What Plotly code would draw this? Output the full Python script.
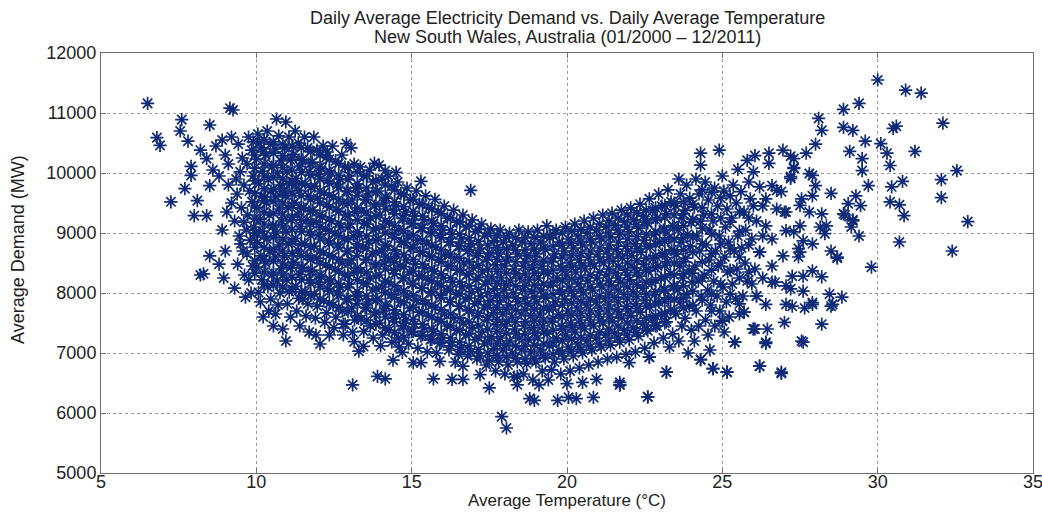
import plotly.graph_objects as go

# Temperature (°C), demand (MW) pairs
cold_points = [
    (6.5, 11160), (6.8, 10590), (6.9, 10460), (7.25, 9520), (7.55, 10700), (7.6, 10890),
    (7.7, 9740), (7.8, 10530), (7.9, 10110), (7.9, 9960), (8.0, 9290), (8.1, 9540),
    (8.3, 8320), (8.2, 8300), (8.4, 9290), (8.4, 10240), (8.5, 10800), (8.5, 9790),
    (8.5, 8620), (8.8, 8480), (8.7, 10450), (8.9, 10550), (8.8, 9950), (8.9, 9050),
    (9.0, 10300), (9.1, 9800), (9.15, 11080), (9.25, 11050), (9.2, 10600), (9.3, 9200),
    (9.3, 8080), (9.2, 9500), (9.35, 9900), (9.0, 8700), (9.65, 7930), (9.1, 10150),
    (8.6, 10050), (8.2, 10380), (9.05, 9350), (8.95, 8250),
]

cool_points = [
    (9.42, 10480), (9.55, 10250), (9.48, 10020), (9.6, 9800), (9.38, 9650), (9.52, 9420),
    (9.6, 9180), (9.45, 8950), (9.57, 8700), (9.4, 8480), (9.62, 8300), (9.5, 8820),
    (9.75, 10600), (9.85, 10380), (9.7, 10150), (9.9, 9950), (9.78, 9700), (9.86, 9520),
    (9.72, 9300), (9.92, 9100), (9.8, 8880), (9.7, 8650), (9.88, 8450), (9.76, 8220),
    (9.83, 8000), (9.9, 10520), (9.68, 9050),
    (10.05, 10650), (10.15, 10420), (10.0, 10230), (10.2, 10030), (10.08, 9820), (10.17, 9610),
    (10.02, 9420), (10.12, 9230), (10.2, 9030), (10.04, 8840), (10.14, 8620), (10.0, 8430),
    (10.18, 8220), (10.07, 8010), (10.13, 7850), (10.22, 7600), (10.1, 10500), (10.0, 9000),
    (10.35, 10700), (10.45, 10480), (10.3, 10300), (10.5, 10100), (10.38, 9890), (10.47, 9700),
    (10.32, 9500), (10.42, 9300), (10.52, 9100), (10.34, 8900), (10.44, 8700), (10.3, 8500),
    (10.5, 8300), (10.37, 8100), (10.46, 7900), (10.4, 7700), (10.55, 7450), (10.28, 9600),
    (10.65, 10900), (10.72, 10620), (10.6, 10400), (10.8, 10200), (10.68, 10000), (10.77, 9800),
    (10.62, 9600), (10.73, 9400), (10.82, 9200), (10.64, 9000), (10.74, 8800), (10.6, 8600),
    (10.8, 8400), (10.67, 8200), (10.76, 8000), (10.7, 7800), (10.62, 7650), (10.85, 7400),
    (10.9, 9700),
    (10.95, 10850), (11.05, 10600), (10.92, 10420), (11.1, 10220), (10.98, 10020), (11.07, 9820),
    (10.93, 9620), (11.03, 9420), (11.12, 9220), (10.96, 9020), (11.04, 8820), (10.9, 8620),
    (11.1, 8420), (10.97, 8220), (11.06, 8020), (11.0, 7820), (11.1, 7600), (10.95, 7200),
    (11.25, 10700), (11.35, 10500), (11.2, 10310), (11.4, 10110), (11.28, 9910), (11.37, 9710),
    (11.22, 9510), (11.33, 9310), (11.42, 9110), (11.26, 8910), (11.34, 8710), (11.2, 8510),
    (11.4, 8310), (11.27, 8110), (11.36, 7910), (11.3, 7700), (11.4, 7450), (11.25, 9800),
    (11.55, 10600), (11.65, 10420), (11.5, 10220), (11.7, 10020), (11.58, 9820), (11.67, 9620),
    (11.52, 9420), (11.63, 9220), (11.72, 9020), (11.56, 8820), (11.64, 8620), (11.5, 8420),
    (11.7, 8220), (11.57, 8020), (11.66, 7820), (11.6, 7620), (11.7, 7350), (11.5, 7900),
    (11.85, 10600), (11.95, 10380), (11.8, 10180), (12.0, 9980), (11.88, 9780), (11.97, 9580),
    (11.82, 9380), (11.93, 9180), (12.02, 8980), (11.86, 8780), (11.94, 8580), (11.8, 8380),
    (12.0, 8180), (11.87, 7980), (11.96, 7780), (11.9, 7580), (11.92, 7300), (12.05, 7150),
    (12.15, 10450), (12.25, 10260), (12.1, 10070), (12.3, 9870), (12.18, 9670), (12.27, 9470),
    (12.12, 9270), (12.23, 9070), (12.32, 8870), (12.16, 8670), (12.24, 8470), (12.1, 8270),
    (12.3, 8070), (12.17, 7870), (12.26, 7670), (12.2, 7510), (12.35, 7300), (12.28, 10350),
    (12.45, 10450), (12.55, 10200), (12.4, 10000), (12.6, 9800), (12.48, 9600), (12.57, 9400),
    (12.42, 9200), (12.53, 9000), (12.62, 8800), (12.46, 8600), (12.54, 8400), (12.4, 8200),
    (12.6, 8000), (12.47, 7800), (12.56, 7600), (12.5, 7420), (12.8, 7480), (12.9, 10490),
    (12.75, 10300), (12.85, 10100), (12.7, 9900), (12.9, 9700), (12.78, 9500), (12.87, 9300),
    (12.72, 9100), (12.83, 8900), (12.92, 8700), (12.76, 8500), (12.84, 8300), (12.7, 8100),
    (12.9, 7900), (12.77, 7700), (12.86, 7480), (12.8, 7300),
    (13.05, 10420), (13.15, 10150), (13.0, 9950), (13.2, 9750), (13.08, 9550), (13.17, 9350),
    (13.02, 9150), (13.13, 8950), (13.22, 8750), (13.06, 8550), (13.14, 8350), (13.0, 8150),
    (13.2, 7950), (13.07, 7750), (13.16, 7550), (13.1, 7350), (13.15, 7190), (13.1, 6470),
    (13.35, 10100), (13.45, 9950), (13.3, 9760), (13.5, 9560), (13.38, 9360), (13.47, 9160),
    (13.32, 8960), (13.43, 8760), (13.52, 8560), (13.36, 8360), (13.44, 8160), (13.3, 7960),
    (13.5, 7760), (13.37, 7560), (13.46, 7360), (13.45, 7110), (13.3, 7030),
    (13.65, 10050), (13.75, 9850), (13.6, 9650), (13.8, 9450), (13.68, 9250), (13.77, 9050),
    (13.62, 8850), (13.73, 8650), (13.82, 8450), (13.66, 8250), (13.74, 8050), (13.6, 7850),
    (13.8, 7650), (13.67, 7450), (13.76, 7250), (13.9, 6610), (13.8, 10160),
]

mild_points = [
    (13.95, 10130), (14.05, 9900), (13.9, 9700), (14.1, 9500), (13.98, 9300), (14.07, 9100),
    (13.92, 8900), (14.03, 8700), (14.12, 8500), (13.96, 8300), (14.04, 8100), (13.9, 7900),
    (14.1, 7700), (13.97, 7500), (14.06, 7300), (14.15, 6570), (14.0, 7120), (14.15, 10040),
    (14.25, 9950), (14.35, 9780), (14.2, 9580), (14.4, 9380), (14.28, 9180), (14.37, 8980),
    (14.22, 8780), (14.33, 8580), (14.42, 8380), (14.26, 8180), (14.34, 7980), (14.2, 7780),
    (14.4, 7580), (14.27, 7380), (14.36, 7180), (14.4, 6880), (14.5, 10010),
    (14.55, 9850), (14.65, 9650), (14.5, 9450), (14.7, 9250), (14.58, 9050), (14.67, 8850),
    (14.52, 8650), (14.63, 8450), (14.72, 8250), (14.56, 8050), (14.64, 7850), (14.5, 7650),
    (14.7, 7450), (14.57, 7250), (14.7, 7010), (14.6, 7100),
    (14.85, 9750), (14.95, 9550), (14.8, 9350), (15.0, 9150), (14.88, 8950), (14.97, 8750),
    (14.82, 8550), (14.93, 8350), (15.02, 8150), (14.86, 7950), (14.94, 7750), (14.8, 7550),
    (15.0, 7350), (14.9, 7150), (15.05, 6840),
    (15.15, 9700), (15.25, 9480), (15.1, 9280), (15.3, 9080), (15.18, 8880), (15.27, 8680),
    (15.12, 8480), (15.23, 8280), (15.32, 8080), (15.16, 7880), (15.24, 7680), (15.1, 7480),
    (15.3, 7280), (15.2, 7080), (15.3, 6840), (15.3, 9860),
    (15.45, 9620), (15.55, 9420), (15.4, 9220), (15.6, 9020), (15.48, 8820), (15.57, 8620),
    (15.42, 8420), (15.53, 8220), (15.62, 8020), (15.46, 7820), (15.54, 7620), (15.4, 7420),
    (15.6, 7220), (15.5, 7020), (15.7, 6570),
    (15.75, 9560), (15.85, 9360), (15.7, 9160), (15.9, 8960), (15.78, 8760), (15.87, 8560),
    (15.72, 8360), (15.83, 8160), (15.92, 7960), (15.76, 7760), (15.84, 7560), (15.7, 7360),
    (15.9, 7160), (15.9, 6860), (15.8, 7000),
    (16.05, 9450), (16.15, 9250), (16.0, 9050), (16.2, 8850), (16.08, 8650), (16.17, 8450),
    (16.02, 8250), (16.13, 8050), (16.22, 7850), (16.06, 7650), (16.14, 7450), (16.0, 7250),
    (16.2, 7050), (16.3, 6560),
    (16.35, 9380), (16.45, 9180), (16.3, 8980), (16.5, 8780), (16.38, 8580), (16.47, 8380),
    (16.32, 8180), (16.43, 7980), (16.52, 7780), (16.36, 7580), (16.44, 7380), (16.3, 7180),
    (16.5, 6980), (16.4, 6850),
    (16.65, 9300), (16.75, 9100), (16.6, 8900), (16.8, 8700), (16.68, 8500), (16.77, 8300),
    (16.62, 8100), (16.73, 7900), (16.82, 7700), (16.66, 7500), (16.74, 7300), (16.6, 7100),
    (16.8, 6950), (16.65, 6780), (16.65, 6560), (16.9, 9710),
    (16.95, 9220), (17.05, 9020), (16.9, 8820), (17.1, 8620), (16.98, 8420), (17.07, 8220),
    (16.92, 8020), (17.03, 7820), (17.12, 7620), (16.96, 7420), (17.04, 7220), (16.9, 7020),
    (17.1, 6900),
    (17.25, 9150), (17.35, 8950), (17.2, 8750), (17.4, 8550), (17.28, 8350), (17.37, 8150),
    (17.22, 7950), (17.33, 7750), (17.42, 7550), (17.26, 7350), (17.34, 7150), (17.2, 6950),
    (17.2, 6640), (17.4, 6800),
    (17.55, 9070), (17.65, 8870), (17.5, 8670), (17.7, 8470), (17.58, 8270), (17.67, 8070),
    (17.52, 7870), (17.63, 7670), (17.72, 7470), (17.56, 7270), (17.64, 7070), (17.5, 6870),
    (17.5, 6420), (17.7, 6700),
    (17.85, 9050), (17.95, 8850), (17.8, 8650), (18.0, 8450), (17.88, 8250), (17.97, 8050),
    (17.82, 7850), (17.93, 7650), (18.02, 7450), (17.86, 7250), (17.94, 7050), (17.8, 6850),
    (18.0, 6650), (17.9, 5940), (18.05, 5750),
    (18.15, 9000), (18.25, 8800), (18.1, 8600), (18.3, 8400), (18.18, 8200), (18.27, 8000),
    (18.12, 7800), (18.23, 7600), (18.32, 7400), (18.16, 7200), (18.24, 7000), (18.1, 6800),
    (18.3, 6600), (18.4, 6470),
    (18.45, 9050), (18.55, 8850), (18.4, 8650), (18.6, 8450), (18.48, 8250), (18.57, 8050),
    (18.42, 7850), (18.53, 7650), (18.62, 7450), (18.46, 7250), (18.54, 7050), (18.4, 6850),
    (18.6, 6650), (18.4, 6610),
    (18.75, 9020), (18.85, 8820), (18.7, 8620), (18.9, 8420), (18.78, 8220), (18.87, 8020),
    (18.72, 7820), (18.83, 7620), (18.92, 7420), (18.76, 7220), (18.84, 7020), (18.7, 6820),
    (18.9, 6550), (18.8, 6240), (18.95, 6210),
    (19.05, 9050), (19.15, 8850), (19.0, 8650), (19.2, 8450), (19.08, 8250), (19.17, 8050),
    (19.02, 7850), (19.13, 7650), (19.22, 7450), (19.06, 7250), (19.14, 7050), (19.0, 6850),
    (19.2, 6700), (19.1, 6470),
    (19.35, 9120), (19.45, 8920), (19.3, 8720), (19.5, 8520), (19.38, 8320), (19.47, 8120),
    (19.32, 7920), (19.43, 7720), (19.52, 7520), (19.36, 7320), (19.44, 7120), (19.3, 6920),
    (19.5, 6720), (19.4, 6550),
    (19.65, 9050), (19.75, 8850), (19.6, 8650), (19.8, 8450), (19.68, 8250), (19.77, 8050),
    (19.62, 7850), (19.73, 7650), (19.82, 7450), (19.66, 7250), (19.74, 7050), (19.6, 6850),
    (19.8, 6650), (19.7, 6210),
]

warm_points = [
    (19.95, 9100), (20.05, 8900), (19.9, 8700), (20.1, 8500), (19.98, 8300), (20.07, 8100),
    (19.92, 7900), (20.03, 7700), (20.12, 7500), (19.96, 7300), (20.04, 7100), (19.9, 6900),
    (20.1, 6700), (20.0, 6490), (20.05, 6260),
    (20.25, 9150), (20.35, 8950), (20.2, 8750), (20.4, 8550), (20.28, 8350), (20.37, 8150),
    (20.22, 7950), (20.33, 7750), (20.42, 7550), (20.26, 7350), (20.34, 7150), (20.2, 6950),
    (20.4, 6750), (20.3, 6240),
    (20.55, 9200), (20.65, 9000), (20.5, 8800), (20.7, 8600), (20.58, 8400), (20.67, 8200),
    (20.52, 8000), (20.63, 7800), (20.72, 7600), (20.56, 7400), (20.64, 7200), (20.5, 7000),
    (20.7, 6800), (20.5, 6510),
    (20.85, 9250), (20.95, 9050), (20.8, 8850), (21.0, 8650), (20.88, 8450), (20.97, 8250),
    (20.82, 8050), (20.93, 7850), (21.02, 7650), (20.86, 7450), (20.94, 7250), (20.8, 7050),
    (21.0, 6850), (20.95, 6560), (20.85, 6260),
    (21.15, 9300), (21.25, 9100), (21.1, 8900), (21.3, 8700), (21.18, 8500), (21.27, 8300),
    (21.12, 8100), (21.23, 7900), (21.32, 7700), (21.16, 7500), (21.24, 7300), (21.1, 7100),
    (21.3, 6900),
    (21.45, 9330), (21.55, 9130), (21.4, 8930), (21.6, 8730), (21.48, 8530), (21.57, 8330),
    (21.42, 8130), (21.53, 7930), (21.62, 7730), (21.46, 7530), (21.54, 7330), (21.4, 7130),
    (21.6, 6930), (21.7, 6510), (21.7, 6470),
    (21.75, 9380), (21.85, 9180), (21.7, 8980), (21.9, 8780), (21.78, 8580), (21.87, 8380),
    (21.72, 8180), (21.83, 7980), (21.92, 7780), (21.76, 7580), (21.84, 7380), (21.7, 7180),
    (21.9, 6980), (22.0, 6840),
    (22.05, 9420), (22.15, 9220), (22.0, 9020), (22.2, 8820), (22.08, 8620), (22.17, 8420),
    (22.02, 8220), (22.13, 8020), (22.22, 7820), (22.06, 7620), (22.14, 7420), (22.0, 7220),
    (22.2, 7020),
    (22.35, 9480), (22.45, 9280), (22.3, 9080), (22.5, 8880), (22.38, 8680), (22.47, 8480),
    (22.32, 8280), (22.43, 8080), (22.52, 7880), (22.36, 7680), (22.44, 7480), (22.3, 7280),
    (22.5, 7080), (22.6, 6270), (22.65, 6930),
    (22.65, 9570), (22.75, 9370), (22.6, 9170), (22.8, 8970), (22.68, 8770), (22.77, 8570),
    (22.62, 8370), (22.73, 8170), (22.82, 7970), (22.66, 7770), (22.74, 7570), (22.6, 7370),
    (22.8, 7170),
    (22.95, 9650), (23.05, 9450), (22.9, 9250), (23.1, 9050), (22.98, 8850), (23.07, 8650),
    (22.92, 8450), (23.03, 8250), (23.12, 8050), (22.96, 7850), (23.04, 7650), (22.9, 7450),
    (23.1, 7250), (23.2, 6680),
    (23.25, 9720), (23.35, 9520), (23.2, 9320), (23.4, 9120), (23.28, 8920), (23.37, 8720),
    (23.22, 8520), (23.33, 8320), (23.42, 8120), (23.26, 7920), (23.34, 7720), (23.2, 7520),
    (23.4, 7320), (23.3, 7100),
    (23.6, 9900), (23.65, 9650), (23.5, 9450), (23.7, 9250), (23.58, 9050), (23.67, 8850),
    (23.52, 8650), (23.63, 8450), (23.72, 8250), (23.56, 8050), (23.64, 7850), (23.5, 7650),
    (23.7, 7450), (23.6, 7200),
    (23.85, 9800), (23.95, 9580), (23.8, 9380), (24.0, 9180), (23.88, 8980), (23.97, 8780),
    (23.82, 8580), (23.93, 8380), (24.02, 8180), (23.86, 7980), (23.94, 7780), (23.8, 7580),
    (24.0, 7380), (23.9, 7000),
    (24.3, 10330), (24.3, 10130), (24.15, 9900), (24.25, 9650), (24.1, 9430), (24.3, 9200),
    (24.18, 8950), (24.27, 8700), (24.12, 8450), (24.23, 8200), (24.32, 7950), (24.16, 7700),
    (24.24, 7450), (24.3, 6890), (24.1, 7200),
    (24.9, 10380), (24.45, 9850), (24.55, 9550), (24.4, 9300), (24.6, 9050), (24.48, 8800),
    (24.57, 8550), (24.42, 8300), (24.53, 8050), (24.62, 7800), (24.46, 7550), (24.54, 7300),
    (24.7, 6740), (24.6, 7050),
    (24.75, 9750), (24.85, 9450), (24.7, 9200), (24.9, 8950), (24.78, 8700), (24.87, 8450),
    (24.72, 8200), (24.83, 7950), (24.92, 7700), (24.76, 7450), (25.0, 7530), (25.15, 6680),
    (25.05, 9700), (25.15, 9400), (25.1, 9100), (25.2, 8850), (25.08, 8600), (25.17, 8350),
    (25.02, 8100), (25.13, 7850), (25.22, 7600), (25.06, 7350), (25.0, 9950),
    (25.5, 10060), (25.35, 9800), (25.45, 9500), (25.3, 9250), (25.5, 8950), (25.38, 8700),
    (25.47, 8400), (25.32, 8150), (25.43, 7900), (25.4, 7180), (25.55, 7650),
    (25.8, 10210), (25.6, 9690), (25.7, 9350), (25.75, 9050), (25.62, 8750), (25.73, 8500),
    (25.8, 8200), (25.66, 7950), (25.7, 7680), (25.9, 9570),
    (26.05, 10290), (26.0, 10020), (26.2, 9770), (26.0, 9450), (26.1, 9200), (25.95, 8900),
    (26.2, 8680), (26.05, 8400), (26.1, 7950), (26.0, 7400), (26.2, 6780), (25.95, 8150),
]

hot_points = [
    (26.5, 10330), (26.5, 10160), (26.95, 10380), (27.2, 10280), (27.3, 10090), (27.7, 10330),
    (26.6, 9790), (26.75, 9710), (27.2, 9910), (27.8, 9990), (28.0, 9790), (28.5, 9660),
    (27.55, 9570), (27.8, 9350), (28.2, 9320), (28.15, 9100), (28.35, 9120), (28.5, 8700),
    (28.7, 8600), (27.6, 8870), (27.9, 8820), (27.45, 8740), (27.45, 8600), (27.25, 8280),
    (27.6, 8280), (27.9, 8370), (28.2, 8270), (27.6, 8030), (27.05, 8120), (26.7, 8180),
    (27.05, 7810), (27.9, 7840), (28.45, 7980), (28.55, 7810), (28.85, 7930), (26.4, 7810),
    (26.1, 7950), (26.6, 8450), (26.95, 8620), (26.2, 8680), (26.6, 8900), (27.05, 9040),
    (26.4, 9120), (27.5, 9120), (27.05, 9350), (26.75, 9400), (26.4, 9570), (27.3, 9020),
    (28.3, 8990), (27.5, 9460), (27.0, 9350), (26.9, 9690), (27.9, 9620), (27.3, 10240),
    (27.3, 10075), (27.2, 9940), (27.9, 9960), (28.0, 10480), (28.1, 10910), (28.2, 10710),
    (28.9, 11060), (29.4, 11160), (28.9, 10760), (29.2, 10710), (29.6, 10530), (30.1, 10490),
    (30.5, 10745), (30.6, 10780), (32.1, 10830), (29.1, 10360), (29.5, 10240), (30.3, 10330),
    (31.2, 10360), (29.5, 10040), (30.4, 10125), (32.55, 10040), (32.05, 9890), (29.7, 9790),
    (30.45, 9770), (30.8, 9860), (32.05, 9590), (29.3, 9620), (29.05, 9490), (29.45, 9455),
    (30.4, 9520), (30.7, 9470), (30.85, 9290), (28.95, 9300), (29.2, 9200), (29.15, 9100),
    (29.4, 8950), (32.9, 9190), (30.7, 8850), (32.4, 8700), (29.8, 8430), (28.2, 7480),
    (27.55, 7200), (26.9, 6680), (26.2, 6780), (26.4, 7160), (26.45, 7400), (26.0, 7400),
    (27.0, 7510), (25.4, 7180), (25.15, 6680), (22.6, 6270), (21.7, 6470), (25.0, 7540),
    (30.0, 11550), (30.9, 11380), (31.4, 11330), (28.5, 7780), (27.9, 7810), (27.25, 7780),
    (27.2, 8070), (28.9, 9320), (29.2, 9220), (28.7, 8580), (27.5, 8680), (27.65, 7750),
    (26.9, 6660), (27.6, 7180), (26.4, 7180), (23.2, 6680), (22.65, 6930), (24.3, 6890),
    (24.7, 6740), (26.05, 7400), (25.7, 7680), (26.6, 8180),
]

# Extra readings inside the solid core of the cloud: (temperature, [demands])
core_columns = [
    (9.95, [10300, 10080, 9870, 9660, 9450, 9240, 9000, 8760, 8540, 8330]),
    (10.25, [10560, 10350, 10150, 9950, 9740, 9540, 9350, 9150, 8950, 8760, 8560, 8350, 8150]),
    (10.55, [10520, 10330, 10130, 9930, 9730, 9530, 9330, 9130, 8930, 8730, 8530, 8330, 8130]),
    (10.85, [10480, 10290, 10090, 9900, 9690, 9500, 9300, 9100, 8900, 8700, 8500, 8300, 8100]),
    (11.15, [10450, 10250, 10050, 9860, 9660, 9460, 9260, 9060, 8860, 8660, 8460, 8260, 8060]),
    (11.45, [10420, 10210, 10010, 9820, 9620, 9420, 9220, 9020, 8820, 8620, 8420, 8220, 8020]),
    (11.75, [10360, 10160, 9960, 9760, 9560, 9360, 9160, 8960, 8760, 8560, 8360, 8160, 7960]),
    (12.05, [10300, 10100, 9900, 9700, 9500, 9300, 9100, 8900, 8700, 8500, 8300, 8100, 7900]),
    (12.35, [10230, 10030, 9830, 9630, 9430, 9230, 9030, 8830, 8630, 8430, 8230, 8030, 7830]),
    (12.65, [10160, 9960, 9760, 9560, 9360, 9160, 8960, 8760, 8560, 8360, 8160, 7960, 7760]),
    (12.95, [10090, 9890, 9690, 9490, 9290, 9090, 8890, 8690, 8490, 8290, 8090, 7890, 7690]),
    (13.25, [10020, 9820, 9620, 9420, 9220, 9020, 8820, 8620, 8420, 8220, 8020, 7820, 7620]),
    (13.55, [9950, 9750, 9550, 9350, 9150, 8950, 8750, 8550, 8350, 8150, 7950, 7750, 7550]),
    (13.85, [9880, 9680, 9480, 9280, 9080, 8880, 8680, 8480, 8280, 8080, 7880, 7680, 7480]),
    (14.15, [9800, 9600, 9400, 9200, 9000, 8800, 8600, 8400, 8200, 8000, 7800, 7600, 7420]),
    (14.45, [9720, 9520, 9320, 9120, 8920, 8720, 8520, 8320, 8120, 7920, 7720, 7520, 7340]),
    (14.75, [9640, 9440, 9240, 9040, 8840, 8640, 8440, 8240, 8040, 7840, 7640, 7440, 7260]),
    (15.05, [9560, 9360, 9160, 8960, 8760, 8560, 8360, 8160, 7960, 7760, 7560, 7360]),
    (15.35, [9480, 9280, 9080, 8880, 8680, 8480, 8280, 8080, 7880, 7680, 7480, 7300]),
    (15.65, [9400, 9200, 9000, 8800, 8600, 8400, 8200, 8000, 7800, 7600, 7400, 7230]),
    (15.95, [9320, 9120, 8920, 8720, 8520, 8320, 8120, 7920, 7720, 7520, 7320, 7180]),
    (16.25, [9250, 9050, 8850, 8650, 8450, 8250, 8050, 7850, 7650, 7450, 7250, 7120]),
    (16.55, [9180, 8980, 8780, 8580, 8380, 8180, 7980, 7780, 7580, 7380, 7180, 7060]),
    (16.85, [9120, 8920, 8720, 8520, 8320, 8120, 7920, 7720, 7520, 7320, 7120]),
    (17.15, [9060, 8860, 8660, 8460, 8260, 8060, 7860, 7660, 7460, 7260, 7060]),
    (17.45, [9000, 8800, 8600, 8400, 8200, 8000, 7800, 7600, 7400, 7200, 7000]),
    (17.75, [8960, 8760, 8560, 8360, 8160, 7960, 7760, 7560, 7360, 7160, 6960]),
    (18.05, [8930, 8730, 8530, 8330, 8130, 7930, 7730, 7530, 7330, 7130, 6930]),
    (18.35, [8920, 8720, 8520, 8320, 8120, 7920, 7720, 7520, 7320, 7120, 6920]),
    (18.65, [8920, 8720, 8520, 8320, 8120, 7920, 7720, 7520, 7320, 7120, 6900]),
    (18.95, [8930, 8730, 8530, 8330, 8130, 7930, 7730, 7530, 7330, 7130, 6910]),
    (19.25, [8950, 8750, 8550, 8350, 8150, 7950, 7750, 7550, 7350, 7150, 6950]),
    (19.55, [8980, 8780, 8580, 8380, 8180, 7980, 7780, 7580, 7380, 7180, 6980]),
    (19.85, [9000, 8800, 8600, 8400, 8200, 8000, 7800, 7600, 7400, 7200, 7000]),
    (20.15, [9030, 8830, 8630, 8430, 8230, 8030, 7830, 7630, 7430, 7230, 7030]),
    (20.45, [9060, 8860, 8660, 8460, 8260, 8060, 7860, 7660, 7460, 7260, 7060]),
    (20.75, [9100, 8900, 8700, 8500, 8300, 8100, 7900, 7700, 7500, 7300, 7100]),
    (21.05, [9150, 8950, 8750, 8550, 8350, 8150, 7950, 7750, 7550, 7350, 7150]),
    (21.35, [9200, 9000, 8800, 8600, 8400, 8200, 8000, 7800, 7600, 7400, 7200]),
    (21.65, [9250, 9050, 8850, 8650, 8450, 8250, 8050, 7850, 7650, 7450, 7250]),
    (21.95, [9300, 9100, 8900, 8700, 8500, 8300, 8100, 7900, 7700, 7500, 7300]),
    (22.25, [9340, 9140, 8940, 8740, 8540, 8340, 8140, 7940, 7740, 7540, 7340]),
    (22.55, [9380, 9180, 8980, 8780, 8580, 8380, 8180, 7980, 7780, 7580, 7400]),
    (22.85, [9420, 9220, 9020, 8820, 8620, 8420, 8220, 8020, 7820, 7620, 7450]),
    (23.15, [9460, 9260, 9060, 8860, 8660, 8460, 8260, 8060, 7860, 7660, 7500]),
    (23.45, [9500, 9300, 9100, 8900, 8700, 8500, 8300, 8100, 7900, 7700]),
    (23.75, [9520, 9320, 9120, 8920, 8720, 8520, 8320, 8120, 7920, 7750]),
    (24.05, [9480, 9230, 8930, 8680, 8330, 8030, 7800]),
    (24.35, [9720, 9420, 9080, 8820, 8520, 8250, 7880]),
    (24.65, [9680, 9320, 8980, 8650, 8380, 7980, 7700]),
    (24.95, [9580, 9250, 8820, 8500, 8150]),
    (25.25, [9620, 9180, 8750, 8380, 7980]),
    (25.55, [9350, 9030, 8600, 8250, 7820]),
    (25.85, [9850, 9250, 8800, 8350]),
    (26.3, [9450, 8950, 8250]),
]

x_ticks = [5, 10, 15, 20, 25, 30, 35]
y_ticks = [5000, 6000, 7000, 8000, 9000, 10000, 11000, 12000]

all_points = cold_points + cool_points + mild_points + warm_points + hot_points
temperature = [p[0] for p in all_points]
demand = [p[1] for p in all_points]
for t, ds in core_columns:
    temperature += [t] * len(ds)
    demand += ds

navy = "#0e2a78"
font_family = "Liberation Sans, Arial, Helvetica, sans-serif"
text_color = "#222222"

fig = go.Figure()
fig.add_trace(go.Scatter(
    x=temperature, y=demand, mode="markers",
    marker=dict(symbol="asterisk-open", size=11, color=navy,
                line=dict(color=navy, width=1.7)),
    hoverinfo="x+y", showlegend=False,
))

axis_common = dict(
    showgrid=True, gridcolor="#9a9a9a", griddash="dot", gridwidth=1,
    showline=True, linecolor="#707070", linewidth=1, mirror="ticks",
    ticks="inside", ticklen=5, tickcolor="#707070",
    zeroline=False, automargin=False, ticklabeloverflow="allow",
    tickfont=dict(family=font_family, size=18, color=text_color),
)

fig.update_layout(
    width=1042, height=513,
    paper_bgcolor="white", plot_bgcolor="white",
    margin=dict(l=101, r=9, t=53, b=40),
    font=dict(family=font_family, color=text_color),
    xaxis=dict(axis_common, range=[5, 35], tickvals=x_ticks, ticklabelstandoff=-8),
    yaxis=dict(axis_common, range=[5000, 12000], tickvals=y_ticks, tickformat="d"),
    annotations=[
        dict(text="Daily Average Electricity Demand vs. Daily Average Temperature",
             xref="paper", yref="paper", x=0.5, y=1.0833, xanchor="center", yanchor="middle",
             showarrow=False, font=dict(family=font_family, size=18, color=text_color)),
        dict(text="New South Wales, Australia (01/2000 \u2013 12/2011)",
             xref="paper", yref="paper", x=0.5, y=1.0381, xanchor="center", yanchor="middle",
             showarrow=False, font=dict(family=font_family, size=18, color=text_color)),
        dict(text="Average Temperature (\u00b0C)",
             xref="paper", yref="paper", x=0.5, y=-0.0655, xanchor="center", yanchor="middle",
             showarrow=False, font=dict(family=font_family, size=17, color=text_color)),
        dict(text="Average Demand (MW)", textangle=-90,
             xref="paper", yref="paper", x=-0.089, y=0.531, xanchor="center", yanchor="middle",
             showarrow=False, font=dict(family=font_family, size=18, color=text_color)),
    ],
)

fig.write_html("out.html")
